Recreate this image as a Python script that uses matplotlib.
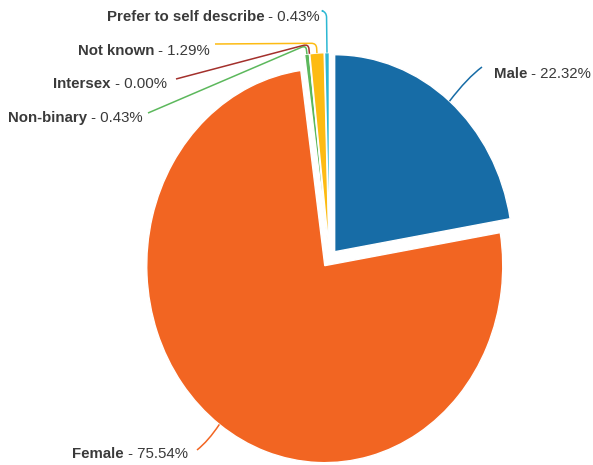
import numpy as np
import matplotlib.pyplot as plt
from matplotlib.path import Path
from matplotlib.patches import PathPatch

# Gender breakdown
categories = ['Male', 'Female', 'Non-binary', 'Intersex', 'Not known',
              'Prefer to self describe']
shares = [22.32, 75.54, 0.43, 0.00, 1.29, 0.43]
colors = ['#176ca6', '#f26522', '#5cb85c', '#a3302c', '#fdbb13', '#2cb8d3']

# label layout in pixels: text x, baseline y, alignment,
# connector end x/y, knee radius (None = smooth curve), curve radius
label_layout = {
    'Male':                    (494, 78, 'left', 482, 67, None, 1.20),
    'Female':                  (188, 458, 'right', 197, 450, None, 1.15),
    'Non-binary':              (143, 122, 'right', 148, 113, 1.09, None),
    'Intersex':                (167, 88, 'right', 176, 79, 1.095, None),
    'Not known':               (210, 55, 'right', 215, 44, 1.095, None),
    'Prefer to self describe': (320, 21, 'right', 323, 11, 1.25, None),
}

plt.rcParams['font.family'] = ['Liberation Sans', 'DejaVu Sans']
text_color = '#3a3a3a'
fsize = 10.8

W, H = 593, 465
fig = plt.figure(figsize=(W / 100, H / 100), dpi=100)
ax = fig.add_axes([0, 0, 1, 1])

# pie centre and radii in pixels (slightly taller than wide)
cx, cy = 329.5, 258.5
rx, ry = 178, 197
explode = 0.045

ax.pie(shares, colors=colors, startangle=90, counterclock=False,
       explode=[explode] * len(shares),
       wedgeprops=dict(edgecolor='white', linewidth=1))
ax.set_aspect('auto')
ax.set_xlim(-cx / rx, (W - cx) / rx)
ax.set_ylim(-(H - cy) / ry, cy / ry)
ax.axis('off')


def to_data(x, y):
    return ((x - cx) / rx, (cy - y) / ry)


def radial_px(theta, r):
    return np.array([cx + r * np.sin(theta) * rx, cy - r * np.cos(theta) * ry])


frac = np.array(shares) / np.sum(shares)
mids = 2 * np.pi * (np.cumsum(frac) - frac / 2)

renderer = fig.canvas.get_renderer()

for i, name in enumerate(categories):
    tx, ty, ha, ex, ey, knee_r, curve_r = label_layout[name]
    color = colors[i]
    start = radial_px(mids[i], 1 + explode)
    end = np.array([ex, ey], dtype=float)

    if knee_r is None:
        ctrl = radial_px(mids[i], curve_r)
        pts = [start, ctrl, end]
        codes = [Path.MOVETO, Path.CURVE3, Path.CURVE3]
    else:
        knee = radial_px(mids[i], knee_r)
        rnd = 5.0
        d1 = (start - knee) / np.linalg.norm(start - knee)
        d2 = (end - knee) / np.linalg.norm(end - knee)
        p1 = knee + d1 * min(rnd, np.linalg.norm(start - knee) * 0.5)
        p2 = knee + d2 * rnd
        pts = [start, p1, knee, p2, end]
        codes = [Path.MOVETO, Path.LINETO, Path.CURVE3, Path.CURVE3, Path.LINETO]

    path = Path([to_data(*p) for p in pts], codes)
    ax.add_patch(PathPatch(path, facecolor='none', edgecolor=color,
                           linewidth=1.1, clip_on=False))

    # bold category name followed by the regular value
    value_txt = f' - {shares[i]:.2f}%'
    if ha == 'left':
        t1 = ax.text(*to_data(tx, ty), name, fontsize=fsize, fontweight='bold',
                     color=text_color, ha='left', va='baseline')
        w = t1.get_window_extent(renderer=renderer).width
        ax.text(*to_data(tx + w, ty), value_txt, fontsize=fsize,
                color=text_color, ha='left', va='baseline')
    else:
        t2 = ax.text(*to_data(tx, ty), value_txt, fontsize=fsize,
                     color=text_color, ha='right', va='baseline')
        w = t2.get_window_extent(renderer=renderer).width
        ax.text(*to_data(tx - w, ty), name, fontsize=fsize, fontweight='bold',
                color=text_color, ha='right', va='baseline')

fig.savefig('out.png', dpi=100)
